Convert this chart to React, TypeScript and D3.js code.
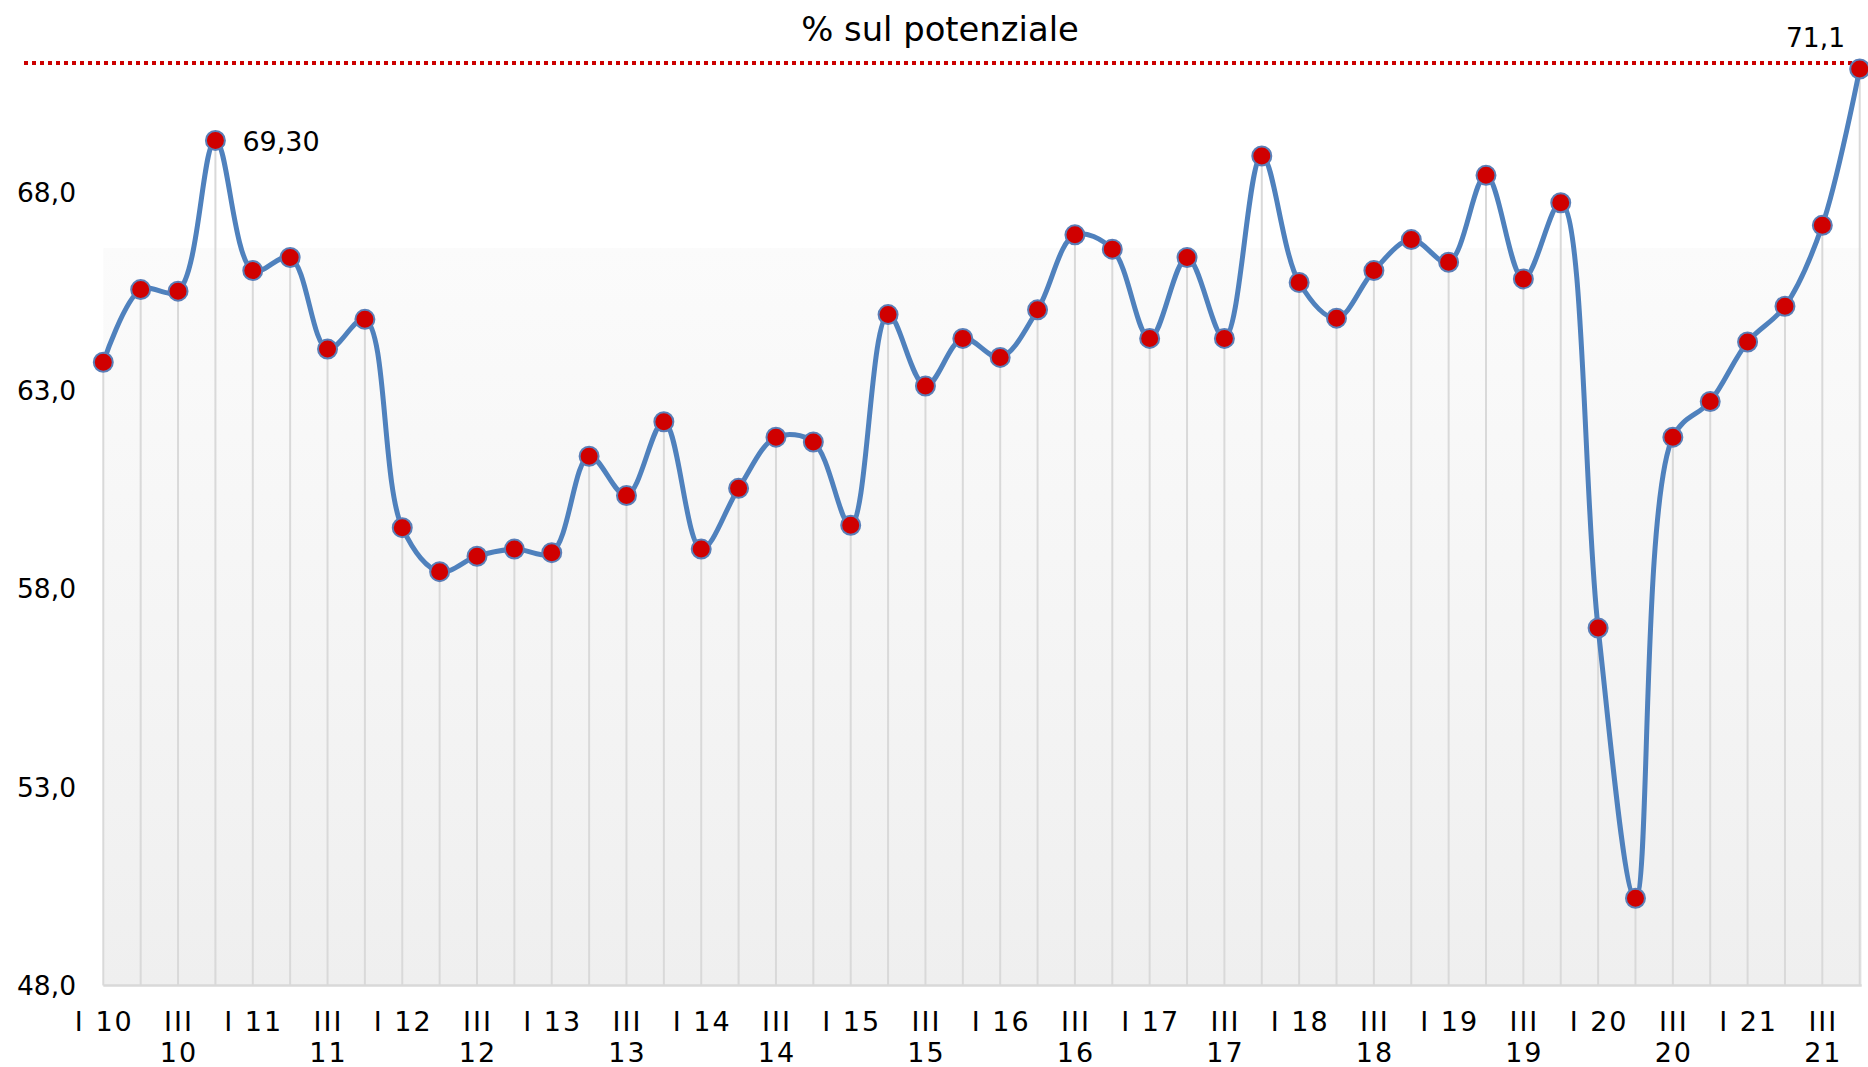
import * as d3 from 'd3';

const years = ['10', '11', '12', '13', '14', '15', '16', '17', '18', '19', '20', '21'];
const quarters = ['I', 'II', 'III', 'IV'];

// capacity utilisation, % of potential, I 2010 .. IV 2021
const values = [
  63.71, 65.54, 65.5, 69.3,
  66.02, 66.35, 64.04, 64.79,
  59.54, 58.43, 58.82, 59.0,
  58.91, 61.34, 60.35, 62.21,
  59.0, 60.53, 61.82, 61.7,
  59.6, 64.91, 63.11, 64.31,
  63.83, 65.03, 66.92, 66.56,
  64.31, 66.35, 64.31, 68.91,
  65.72, 64.82, 66.02, 66.8,
  66.23, 68.42, 65.81, 67.73,
  57.01, 50.2, 61.82, 62.72,
  64.22, 65.12, 67.16, 71.1,
];

const yTicks = [48, 53, 58, 63, 68];
const refLine = 71.25;
const peakLabel = '69,30';
const lastLabel = '71,1';
const title = '% sul potenziale';

const W = 1868;
const H = 1067;
const FONT = '"DejaVu Sans", Verdana, sans-serif';

const categories = years.flatMap(y => quarters.map(q => ({ q, y })));

export default function App() {
  const x = d3.scaleLinear().domain([0, categories.length - 1]).range([103.3, 1859.7]);
  const y = d3.scaleLinear().domain([48, 68]).range([985.5, 192]);

  const line = d3.line<number>()
    .x((_, i) => x(i))
    .y(d => y(d))
    .curve(d3.curveCatmullRom);

  const peakIdx = values.indexOf(d3.max(values.slice(0, 10)) as number);
  const lastIdx = values.length - 1;

  return (
    <svg width={W} height={H} style={{ position: 'absolute', left: 0, top: 0, background: '#fff' }}>
      <defs>
        <linearGradient id="bg" x1="0" x2="0" y1="0" y2="1">
          <stop offset="0%" stopColor="#fbfbfb" />
          <stop offset="100%" stopColor="#efefef" />
        </linearGradient>
      </defs>

      <rect x={x(0)} y={248} width={x(lastIdx) - x(0) + 2} height={y(48) - 248} fill="url(#bg)" />

      {/* drop lines */}
      {values.map((v, i) => (
        <line key={i} x1={x(i)} x2={x(i)} y1={y(v)} y2={y(48)} stroke="#d9d9d9" strokeWidth={2} />
      ))}

      {/* x axis */}
      <line x1={x(0)} x2={x(lastIdx) + 2} y1={y(48)} y2={y(48)} stroke="#d9d9d9" strokeWidth={2.5} />

      {/* y tick labels */}
      {yTicks.map(t => (
        <text key={t} x={76} y={y(t)} dy="0.36em" textAnchor="end" fontFamily={FONT} fontSize={26.5} fill="#000">
          {t.toFixed(1).replace('.', ',')}
        </text>
      ))}

      {/* x tick labels */}
      {categories.map((c, i) => {
        if (c.q === 'I') {
          return (
            <text key={i} x={x(i) + 1} y={1031} textAnchor="middle" fontFamily={FONT} fontSize={27} letterSpacing={2} fill="#000">
              {`I ${c.y}`}
            </text>
          );
        }
        if (c.q === 'III') {
          return (
            <text key={i} textAnchor="middle" fontFamily={FONT} fontSize={27} letterSpacing={2} fill="#000">
              <tspan x={x(i) + 1} y={1031}>III</tspan>
              <tspan x={x(i) + 1} y={1062}>{c.y}</tspan>
            </text>
          );
        }
        return null;
      })}

      {/* reference dotted line */}
      <line x1={24} x2={x(lastIdx)} y1={y(refLine)} y2={y(refLine)}
        stroke="#cc0000" strokeWidth={4} strokeDasharray="4,4" />

      {/* series */}
      <path d={line(values) as string} fill="none" stroke="#4f81bd" strokeWidth={5} strokeLinejoin="round" />

      {values.map((v, i) => (
        <circle key={i} cx={x(i)} cy={y(v)} r={9.5} fill="#d00000" stroke="#5a7fb8" strokeWidth={2} />
      ))}

      {/* data labels */}
      <text x={x(peakIdx) + 27} y={y(values[peakIdx]) + 11} fontFamily={FONT} fontSize={27} fill="#000">
        {peakLabel}
      </text>
      <text x={1845} y={47} textAnchor="end" fontFamily={FONT} fontSize={26.5} fill="#000">
        {lastLabel}
      </text>

      <text x={940} y={41} textAnchor="middle" fontFamily={FONT} fontSize={33.8} fill="#000">
        {title}
      </text>
    </svg>
  );
}
